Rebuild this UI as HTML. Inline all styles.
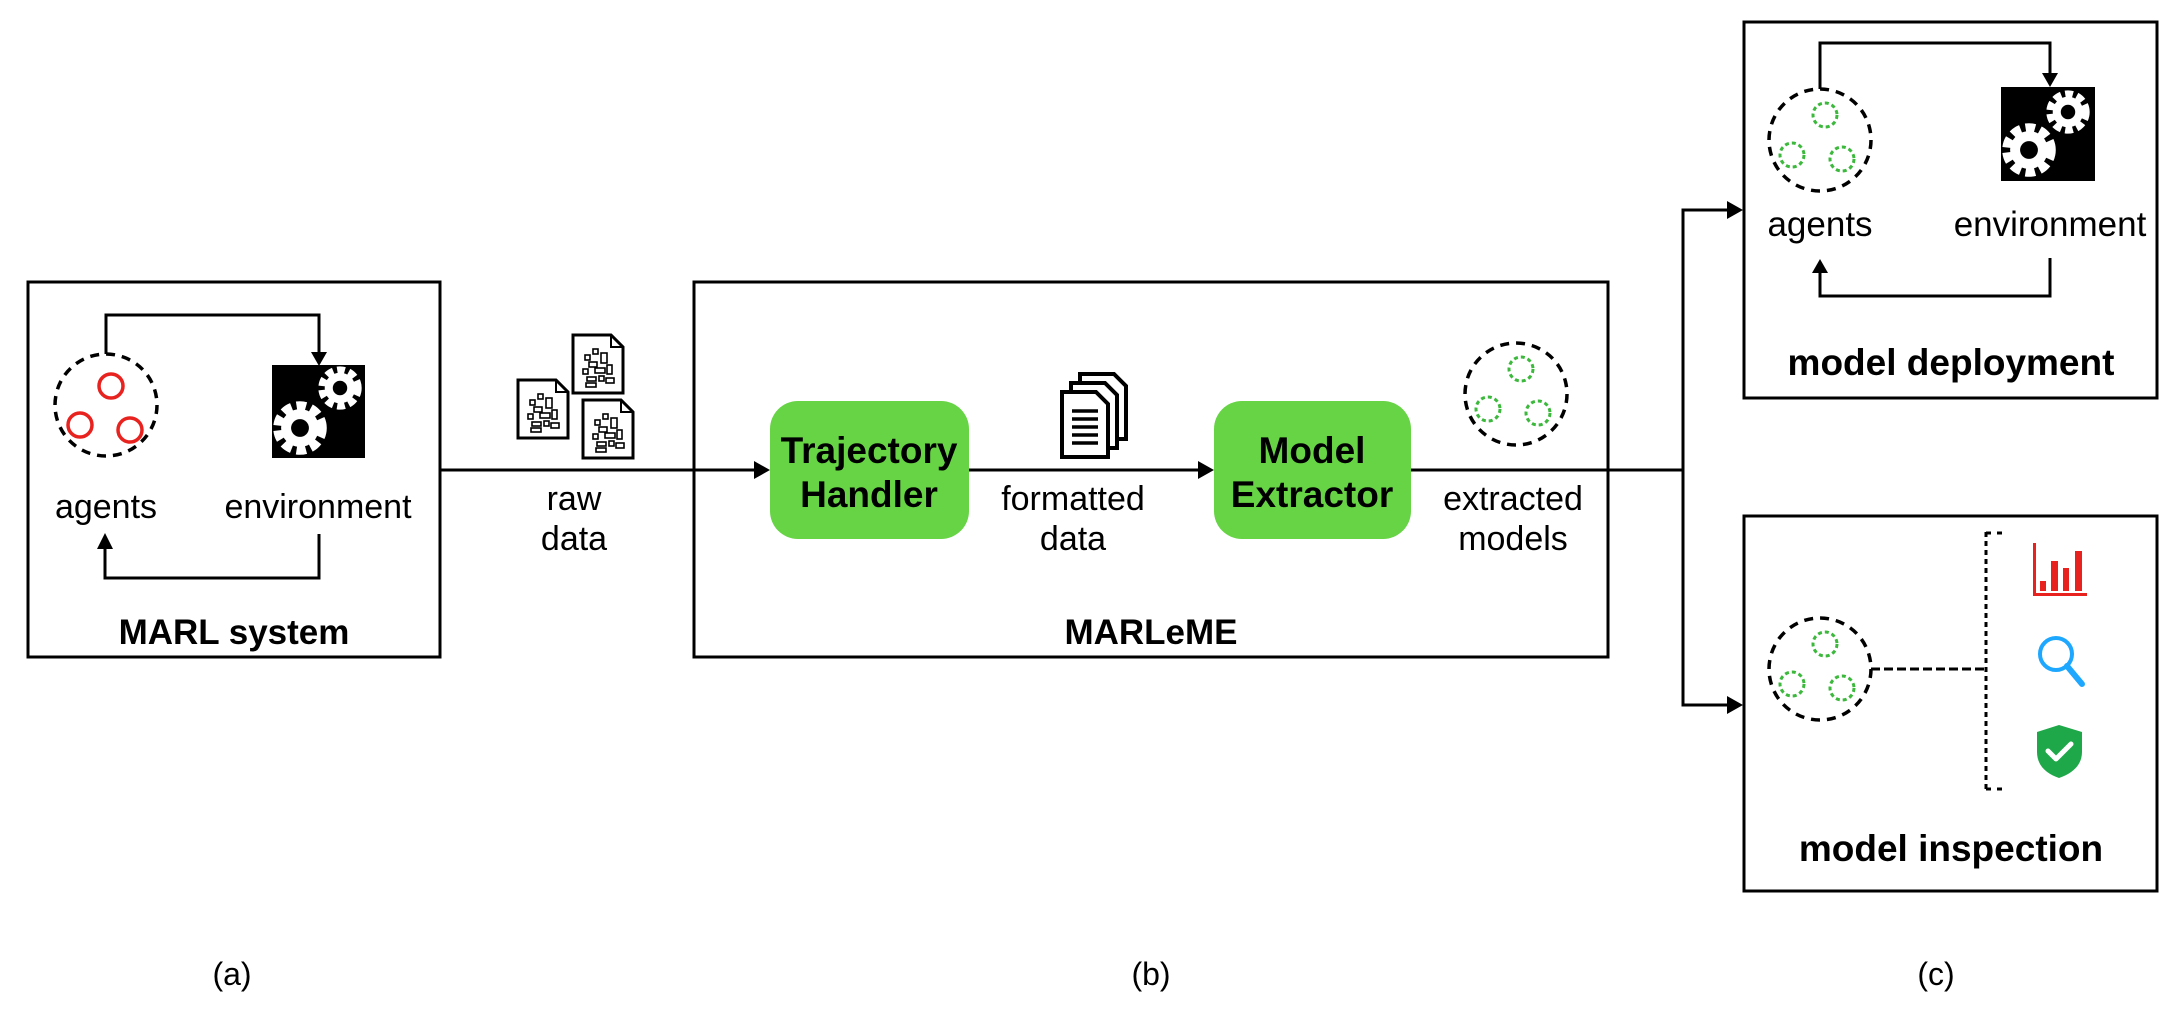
<!DOCTYPE html>
<html><head><meta charset="utf-8"><style>
html,body{margin:0;padding:0;background:#fff;}
svg{display:block;}
text{font-family:"Liberation Sans",sans-serif;}
</style></head><body>
<svg width="2168" height="1010" viewBox="0 0 2168 1010" xmlns="http://www.w3.org/2000/svg">
<defs>
<g id="gear">
  <circle r="20" fill="none" stroke="#fff" stroke-width="11" stroke-dasharray="8.5 4.5"/>
  <circle r="18" fill="#fff"/>
  <circle r="8.5" fill="#000"/>
</g>
<g id="doc">
  <path d="M0 0 H38 L50 12 V58 H0 Z" fill="#fff" stroke="#000" stroke-width="3"/>
  <path d="M38 0 V12 H50" fill="none" stroke="#000" stroke-width="2"/>
  <g fill="none" stroke="#000" stroke-width="1.6">
    <rect x="12" y="20" width="5" height="5"/><rect x="20" y="14" width="5" height="5"/><rect x="28" y="18" width="6" height="10"/>
    <rect x="16" y="27" width="8" height="5"/><rect x="10" y="34" width="5" height="5"/><rect x="22" y="33" width="10" height="5"/>
    <rect x="34" y="30" width="5" height="9"/><rect x="14" y="42" width="9" height="4"/><rect x="26" y="41" width="5" height="5"/>
    <rect x="33" y="43" width="8" height="5"/><rect x="13" y="48" width="10" height="4"/>
  </g>
</g>
<g id="stack">
  <path d="M0 0 H34 L46 12 V65 H0 Z" fill="#fff" stroke="#000" stroke-width="4"/>
</g>
<g id="agentsG">
  <circle r="51" fill="none" stroke="#000" stroke-width="3.5" stroke-dasharray="9 7"/>
  <circle cx="5" cy="-25" r="12" fill="none" stroke="#3cb83c" stroke-width="3" stroke-dasharray="4 3"/>
  <circle cx="-28" cy="15" r="12" fill="none" stroke="#3cb83c" stroke-width="3" stroke-dasharray="4 3"/>
  <circle cx="22" cy="19" r="12" fill="none" stroke="#3cb83c" stroke-width="3" stroke-dasharray="4 3"/>
</g>
</defs>

<!-- MARL system -->
<rect x="28" y="282" width="412" height="375" fill="none" stroke="#000" stroke-width="3"/>
<circle cx="106" cy="405" r="51" fill="none" stroke="#000" stroke-width="3.5" stroke-dasharray="9 7"/>
<circle cx="111" cy="386" r="12" fill="none" stroke="#e8231f" stroke-width="3.5"/>
<circle cx="80" cy="425" r="12" fill="none" stroke="#e8231f" stroke-width="3.5"/>
<circle cx="130" cy="430" r="12" fill="none" stroke="#e8231f" stroke-width="3.5"/>
<rect x="272" y="365" width="93" height="93" fill="#000"/>
<use href="#gear" transform="translate(340 388) scale(0.85)"/>
<use href="#gear" transform="translate(300 428) scale(1.05)"/>
<polyline points="106,354 106,315 319,315 319,352" fill="none" stroke="#000" stroke-width="3"/>
<polygon points="311,352 327,352 319,366" fill="#000"/>
<polyline points="319,534 319,578 105,578 105,548" fill="none" stroke="#000" stroke-width="3"/>
<polygon points="97,549 113,549 105,533" fill="#000"/>
<text x="106" y="518" font-size="34" text-anchor="middle">agents</text>
<text x="318" y="518" font-size="34" text-anchor="middle">environment</text>
<text x="234" y="644" font-size="35" font-weight="bold" text-anchor="middle">MARL system</text>

<!-- raw data -->
<line x1="440" y1="470" x2="756" y2="470" stroke="#000" stroke-width="3"/>
<polygon points="754,461 770,470 754,479" fill="#000"/>
<use href="#doc" x="573" y="335"/>
<use href="#doc" x="518" y="380"/>
<use href="#doc" x="583" y="400"/>
<text x="574" y="510" font-size="34" text-anchor="middle">raw</text>
<text x="574" y="550" font-size="34" text-anchor="middle">data</text>

<!-- MARLeME -->
<rect x="694" y="282" width="914" height="375" fill="none" stroke="#000" stroke-width="3"/>
<rect x="770" y="401" width="199" height="138" rx="28" fill="#66d444"/>
<text x="869" y="463" font-size="37" font-weight="bold" text-anchor="middle">Trajectory</text>
<text x="869" y="507" font-size="37" font-weight="bold" text-anchor="middle">Handler</text>
<line x1="969" y1="470" x2="1200" y2="470" stroke="#000" stroke-width="3"/>
<polygon points="1198,461 1214,470 1198,479" fill="#000"/>
<use href="#stack" x="1080" y="374"/>
<use href="#stack" x="1071" y="383"/>
<use href="#stack" x="1062" y="392"/>
<g stroke="#000" stroke-width="3.5">
<line x1="1072" y1="411" x2="1098" y2="411"/><line x1="1072" y1="419" x2="1098" y2="419"/>
<line x1="1072" y1="427" x2="1098" y2="427"/><line x1="1072" y1="435" x2="1098" y2="435"/>
<line x1="1072" y1="443" x2="1098" y2="443"/>
</g>
<text x="1073" y="510" font-size="34" text-anchor="middle">formatted</text>
<text x="1073" y="550" font-size="34" text-anchor="middle">data</text>
<rect x="1214" y="401" width="197" height="138" rx="28" fill="#66d444"/>
<text x="1312" y="463" font-size="37" font-weight="bold" text-anchor="middle">Model</text>
<text x="1312" y="507" font-size="37" font-weight="bold" text-anchor="middle">Extractor</text>
<use href="#agentsG" x="1516" y="394"/>
<text x="1513" y="510" font-size="34" text-anchor="middle">extracted</text>
<text x="1513" y="550" font-size="34" text-anchor="middle">models</text>
<text x="1151" y="644" font-size="35" font-weight="bold" text-anchor="middle">MARLeME</text>

<!-- branch -->
<polyline points="1411,470 1683,470" fill="none" stroke="#000" stroke-width="3"/>
<polyline points="1728,210 1683,210 1683,705 1728,705" fill="none" stroke="#000" stroke-width="3"/>
<polygon points="1727,201 1743,210 1727,219" fill="#000"/>
<polygon points="1727,696 1743,705 1727,714" fill="#000"/>

<!-- deployment -->
<rect x="1744" y="22" width="413" height="376" fill="none" stroke="#000" stroke-width="3"/>
<use href="#agentsG" x="1820" y="140"/>
<rect x="2001" y="87" width="94" height="94" fill="#000"/>
<use href="#gear" transform="translate(2068 112) scale(0.85)"/>
<use href="#gear" transform="translate(2029 150) scale(1.05)"/>
<polyline points="1820,89 1820,43 2050,43 2050,74" fill="none" stroke="#000" stroke-width="3"/>
<polygon points="2042,73 2058,73 2050,87" fill="#000"/>
<polyline points="2050,258 2050,296 1820,296 1820,272" fill="none" stroke="#000" stroke-width="3"/>
<polygon points="1812,273 1828,273 1820,259" fill="#000"/>
<text x="1820" y="236" font-size="35" text-anchor="middle">agents</text>
<text x="2050" y="236" font-size="35" text-anchor="middle">environment</text>
<text x="1951" y="375" font-size="37" font-weight="bold" text-anchor="middle">model deployment</text>

<!-- inspection -->
<rect x="1744" y="516" width="413" height="375" fill="none" stroke="#000" stroke-width="3"/>
<use href="#agentsG" x="1820" y="669"/>
<line x1="1871" y1="669" x2="1986" y2="669" stroke="#000" stroke-width="3" stroke-dasharray="9 4"/>
<line x1="1986" y1="532" x2="1986" y2="790" stroke="#000" stroke-width="3" stroke-dasharray="5 4"/>
<line x1="1986" y1="533" x2="2004" y2="533" stroke="#000" stroke-width="3" stroke-dasharray="5 6"/>
<line x1="1986" y1="789" x2="2004" y2="789" stroke="#000" stroke-width="3" stroke-dasharray="5 6"/>
<g fill="#e8231f">
<rect x="2033" y="543" width="3" height="53"/><rect x="2033" y="593" width="54" height="3"/>
<rect x="2040" y="581" width="6" height="10"/><rect x="2051" y="561" width="7" height="30"/>
<rect x="2063" y="568" width="6" height="23"/><rect x="2075" y="551" width="7" height="40"/>
</g>
<circle cx="2056" cy="654" r="16" fill="none" stroke="#1ea7ff" stroke-width="4"/>
<line x1="2067" y1="666" x2="2082" y2="684" stroke="#1ea7ff" stroke-width="6" stroke-linecap="round"/>
<path d="M2059 725 L2082 732 V752 C2082 766 2071 774 2059 778 C2047 774 2037 766 2037 752 V732 Z" fill="#1fa84a"/>
<polyline points="2048,751 2056,759 2071,744" fill="none" stroke="#fff" stroke-width="5" stroke-linecap="round" stroke-linejoin="round"/>
<text x="1951" y="861" font-size="37" font-weight="bold" text-anchor="middle">model inspection</text>

<text x="232" y="985" font-size="32" text-anchor="middle">(a)</text>
<text x="1151" y="985" font-size="32" text-anchor="middle">(b)</text>
<text x="1936" y="985" font-size="32" text-anchor="middle">(c)</text>
</svg>
</body></html>
